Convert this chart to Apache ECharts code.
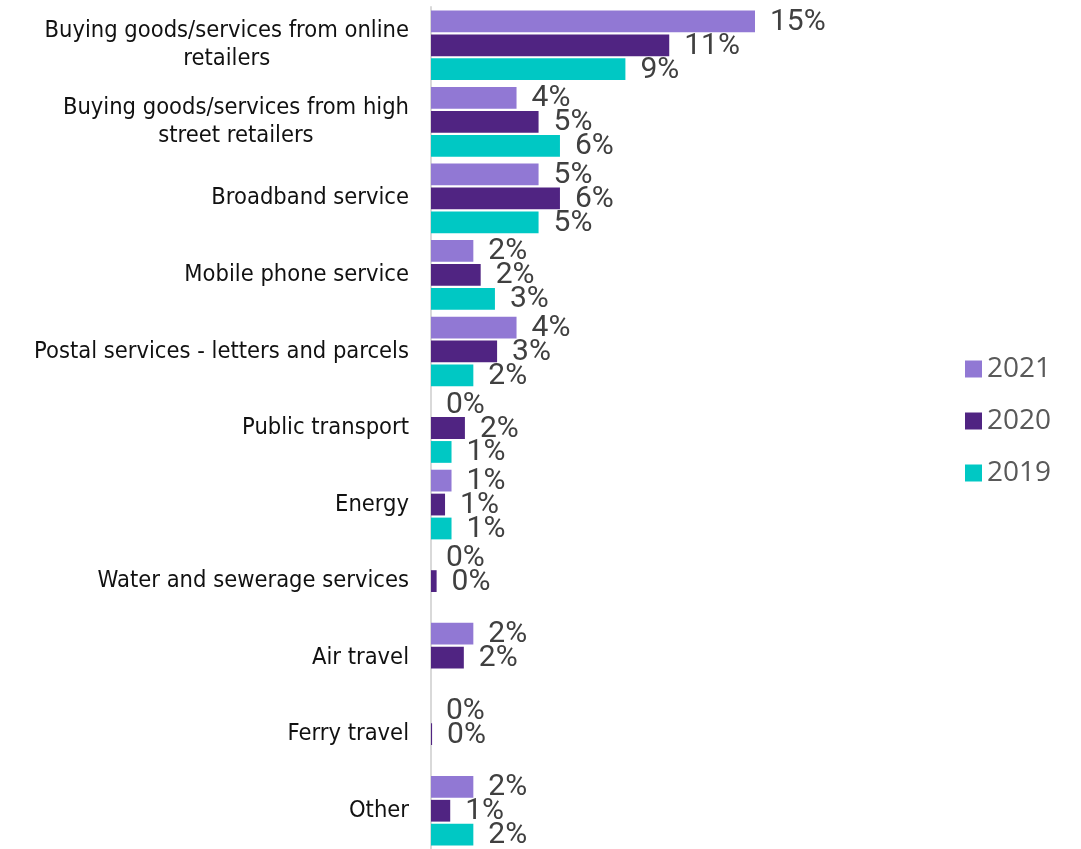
<!DOCTYPE html>
<html>
<head>
<meta charset="utf-8">
<script src="https://cdn.jsdelivr.net/npm/echarts@6/dist/echarts.min.js"></script>
<style>
html, body { margin: 0; padding: 0; background: #fff; }
#chart { width: 1081px; height: 849px; }
</style>
</head>
<body>
<div id="chart"></div>
<script>
// ---- data ----
var categories = [
  "Buying goods/services from online\nretailers",
  "Buying goods/services from high\nstreet retailers",
  "Broadband service",
  "Mobile phone service",
  "Postal services - letters and parcels",
  "Public transport",
  "Energy",
  "Water and sewerage services",
  "Air travel",
  "Ferry travel",
  "Other"
];
var seriesNames = ["2021", "2020", "2019"];
var values2021 = [15.0, 3.96, 4.98, 1.96, 3.96, 0, 0.95, 0, 1.96, 0, 1.96];
var values2020 = [11.03, 4.98, 5.97, 2.3, 3.06, 1.57, 0.65, 0.26, 1.52, 0.05, 0.89];
var values2019 = [9.0, 5.97, 4.98, 2.96, 1.96, 0.95, 0.95, null, null, null, 1.96];
var colors = ["#9178D4", "#502482", "#00C8C4"];

var chart = echarts.init(document.getElementById('chart'), null, { renderer: 'canvas' });

var labelFont = "'Liberation Sans Narrow', 'Roboto', sans-serif";
var catFont = "'DejaVu Sans Condensed', 'DejaVu Sans', sans-serif";

function makeSeries(name, data, color) {
  return {
    name: name,
    type: 'bar',
    data: data,
    barGap: '10%',
    barCategoryGap: '9%',
    itemStyle: { color: color },
    label: {
      show: true,
      position: 'right',
      distance: 15,
      offset: [0, 1],
      color: '#404040',
      fontFamily: labelFont,
      fontSize: 30,
      formatter: function (p) { return Math.round(p.value) + '%'; }
    }
  };
}

chart.setOption({
  animation: false,
  backgroundColor: '#ffffff',
  grid: { left: 431, top: 7, bottom: 0, right: 218, containLabel: false },
  legend: {
    orient: 'vertical',
    left: 965,
    top: 354,
    padding: 0,
    itemWidth: 17,
    itemHeight: 17,
    itemGap: 22,
    icon: 'rect',
    data: seriesNames,
    textStyle: {
      color: '#595959',
      fontFamily: "'Open Sans', sans-serif",
      fontSize: 28,
      lineHeight: 30
    }
  },
  xAxis: {
    type: 'value',
    min: 0,
    max: 20,
    show: false
  },
  yAxis: {
    type: 'category',
    inverse: true,
    data: categories,
    axisTick: { show: false },
    axisLine: { show: true, lineStyle: { color: '#d9d9d9', width: 2 } },
    axisLabel: {
      margin: 22,
      color: '#111111',
      fontFamily: catFont,
      fontSize: 23.5,
      lineHeight: 28,
      formatter: function (v) {
        return v.split('\n').map(function (l) { return '{c|' + l + '}'; }).join('\n');
      },
      rich: {
        c: {
          align: 'center',
          color: '#111111',
          fontFamily: catFont,
          fontSize: 23.5,
          lineHeight: 28
        }
      }
    },
    splitLine: { show: false }
  },
  series: [
    makeSeries(seriesNames[0], values2021, colors[0]),
    makeSeries(seriesNames[1], values2020, colors[1]),
    makeSeries(seriesNames[2], values2019, colors[2])
  ]
});
</script>
</body>
</html>
